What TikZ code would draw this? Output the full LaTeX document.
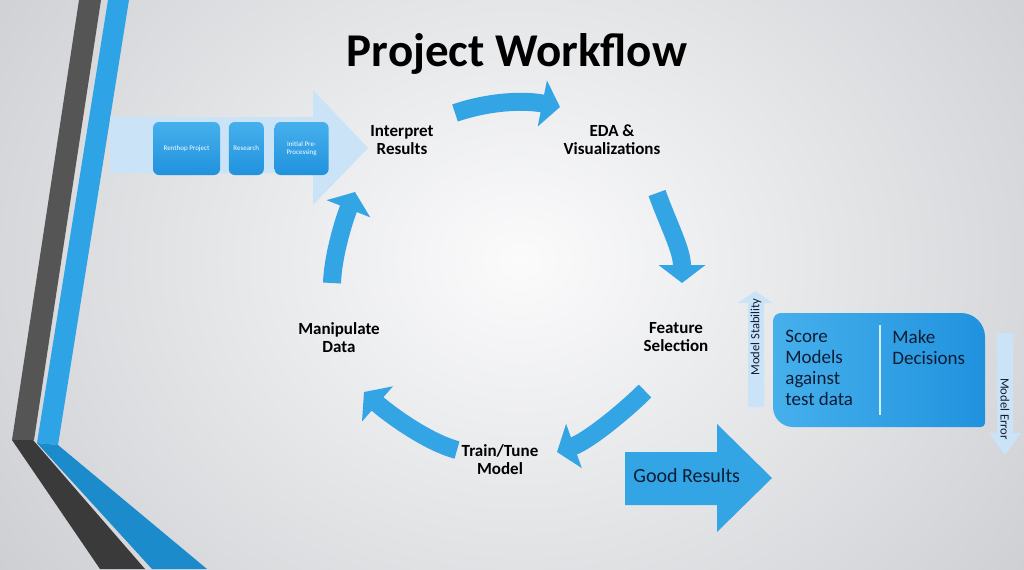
\documentclass[tikz,border=0pt]{standalone}
\usepackage{fontspec}
\setmainfont{Carlito}
\usetikzlibrary{arrows.meta,positioning,shapes.misc}

\definecolor{flowblue}{RGB}{51,164,228}
\definecolor{paleblue}{RGB}{203,227,247}
\definecolor{boxlight}{RGB}{70,176,236}
\definecolor{boxdeep}{RGB}{32,146,222}
\definecolor{navytext}{RGB}{14,28,52}
\definecolor{bgin}{RGB}{251,251,252}
\definecolor{bgout}{RGB}{192,195,199}
\definecolor{stripedark}{RGB}{85,85,85}
\definecolor{stripedarker}{RGB}{58,58,58}
\definecolor{stripeblue}{RGB}{46,163,230}
\definecolor{stripedeep}{RGB}{28,139,203}

\begin{document}
\begin{tikzpicture}[
    % style def
    x=0.5pt, y=-0.5pt,
    cycle arrow/.style={line width=9pt, draw=flowblue, -{Triangle[width=23pt,length=9pt]}},
    step label/.style={font=\bfseries\fontsize{8.5}{9}\selectfont, align=center, text=black},
    tiny box/.style={rounded corners=3pt, minimum height=26.5pt, inner sep=1pt,
        top color=boxlight, bottom color=boxdeep, text=white,
        font=\fontsize{3.5}{3.8}\selectfont, align=center},
    pale arrow/.style={fill=paleblue},
    side label/.style={font=\fontsize{6.3}{7}\selectfont, text=navytext, inner sep=0pt},
    box text/.style={font=\fontsize{9.5}{10.4}\selectfont, text=navytext, align=left, inner sep=0pt, anchor=north west}
    ]
    \useasboundingbox (0,0) rectangle (1024,569);

    % background
    \begin{scope}
        \clip (0,0) rectangle (1024,569);
        \shade[inner color=bgin, outer color=bgout] (-300,-420) rectangle (1340,940);
    \end{scope}

    % left stripes
    \fill[stripedark] (79,0) -- (101,0) -- (34,440) -- (12,440) -- cycle;
    \fill[stripedarker] (12,440) -- (33,440) -- (145,569) -- (100,569) -- cycle;
    \fill[stripeblue] (108,0) -- (129,0) -- (58,445) -- (37,443) -- cycle;
    \fill[stripedeep] (37,443) -- (58,445) -- (207,569) -- (152,569) -- cycle;

    % input arrow with first steps
    \fill[pale arrow] (110,117) -- (313,117) -- (313,90) -- (368,148) -- (313,205) -- (313,173) -- (110,173) -- cycle;
    \node[tiny box, minimum width=33.5pt] (renthop) at (186.5,148.5) {Renthop Project};
    \node[tiny box, minimum width=17.5pt, right=4pt of renthop] (research) {Research};
    \node[tiny box, minimum width=27pt, right=5pt of research] (preproc) {Initial Pre-\\Processing};

    % title
    \node (title) at (517,54) {\fontsize{23.5}{27}\selectfont\bfseries Project Workflow};

    % cycle steps
    \node[step label] (interpret) at (402,140) {Interpret\\Results};
    \node[step label] (eda) at (612,140) {EDA \&\\Visualizations};
    \node[step label] (feature) at (676,337) {Feature\\Selection};
    \node[step label] (train) at (500,460) {Train/Tune\\Model};
    \node[step label] (manip) at (339,338) {Manipulate\\Data};

    % arrow ends
    \coordinate (top a) at (455,113);   \coordinate (top b) at (560,107);
    \coordinate (right a) at (657,193); \coordinate (right b) at (682,283);
    \coordinate (low a) at (645,391);   \coordinate (low b) at (557,452);
    \coordinate (bot a) at (457,450);   \coordinate (bot b) at (364,392);
    \coordinate (left a) at (332,283);  \coordinate (left b) at (355,192);

    \draw[cycle arrow] (top a) .. controls (490,101) and (525,100) .. (top b);
    \draw[cycle arrow] (right a) .. controls (669,226) and (682,250) .. (right b);
    \draw[cycle arrow] (low a) .. controls (625,411) and (588,441) .. (low b);
    \draw[cycle arrow] (bot a) .. controls (427,442) and (389,414) .. (bot b);
    \draw[cycle arrow] (left a) .. controls (333,255) and (344,220) .. (left b);

    % good results
    \fill[flowblue] (625,452) -- (717,452) -- (717,424) -- (772,478) -- (717,532) -- (717,505) -- (625,505) -- cycle;
    \node[anchor=west, inner sep=0pt, text=navytext, font=\fontsize{10}{11}\selectfont] (good) at (633,476) {Good Results};

    % scoring box
    \shade[left color=boxlight, right color=boxdeep] (773,370) [rounded corners=4pt] -- (773,313) [rounded corners=12pt] -- (985,313) [rounded corners=2pt] -- (985,427) [rounded corners=10pt] -- (773,427) -- cycle;
    \draw[white, line width=0.8pt, opacity=0.8] (880,325) -- (880,415);
    \node[box text] (score) at (785,330) {Score\\Models\\against\\test data};
    \node[box text] (decide) at (892,330) {Make\\Decisions};

    % stability and error
    \fill[pale arrow] (748,407) -- (748,303) -- (738,303) -- (755,291) -- (773,303) -- (764,303) -- (764,407) -- cycle;
    \node[side label, rotate=90] (stab) at (756,337) {Model Stability};
    \fill[pale arrow] (997,333) -- (1013,333) -- (1013,433) -- (1021,433) -- (1005,455) -- (989,433) -- (997,433) -- cycle;
    \node[side label, rotate=-90] (err) at (1005,409) {Model Error};

\end{tikzpicture}
\end{document}
